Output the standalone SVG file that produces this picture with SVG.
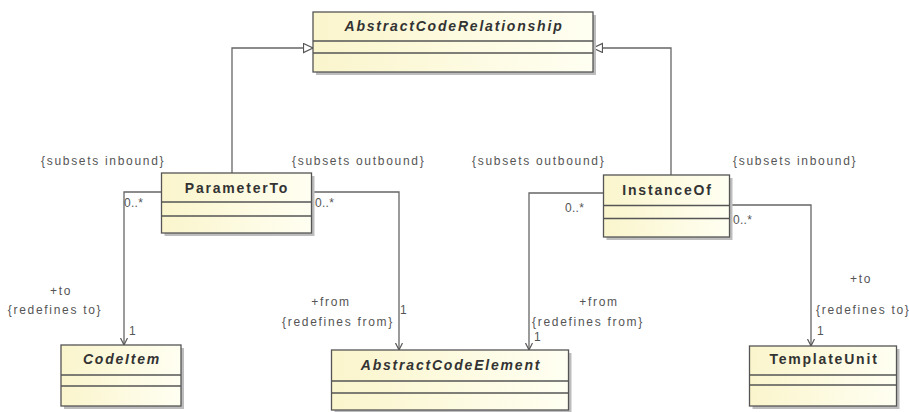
<svg xmlns="http://www.w3.org/2000/svg" width="909" height="412" viewBox="0 0 909 412">
<style>
.box{stroke:#555;stroke-width:1.3;fill:url(#g)}
.sh{fill:#bdbdbd}
.dv{stroke:#555;stroke-width:1.3}
.nm{font-family:"Liberation Sans",Arial,sans-serif;font-size:14px;font-weight:bold;letter-spacing:1.8px;fill:#333;text-anchor:middle}
.it{font-style:italic}
.lb{font-family:"Liberation Sans",Arial,sans-serif;font-size:12px;letter-spacing:1.7px;fill:#555}
.mu{font-family:"Liberation Sans",Arial,sans-serif;font-size:12px;letter-spacing:0.3px;fill:#555}
.c{text-anchor:middle}
.ln{fill:none;stroke:#666;stroke-width:1.3}
</style>
<defs>
<linearGradient id="g" x1="0" y1="0" x2="1" y2="0">
<stop offset="0" stop-color="#faf5cc"/>
<stop offset="1" stop-color="#fffff2"/>
</linearGradient>
<marker id="gen" markerUnits="userSpaceOnUse" markerWidth="12" markerHeight="12" refX="10" refY="5" orient="auto">
<path d="M0.5,0.5 L10,5 L0.5,9.5 Z" fill="#fff" stroke="#555" stroke-width="1.2"/>
</marker>
<marker id="nav" markerUnits="userSpaceOnUse" markerWidth="10" markerHeight="10" refX="7" refY="3.5" orient="auto">
<path d="M0,0 L7,3.5 L0,7" fill="none" stroke="#555" stroke-width="1.2"/>
</marker>
</defs>

<g id="connectors">
<path class="ln" d="M232,173 V48 H313" marker-end="url(#gen)"/>
<path class="ln" d="M671,175 V48 H593" marker-end="url(#gen)"/>
<path class="ln" d="M161.5,192 H124 V345" marker-end="url(#nav)"/>
<path class="ln" d="M311.5,192 H399 V350" marker-end="url(#nav)"/>
<path class="ln" d="M603.5,193 H529 V350" marker-end="url(#nav)"/>
<path class="ln" d="M729.5,205 H811 V346" marker-end="url(#nav)"/>
</g>

<g id="labels">
<text class="lb" x="41" y="165">{subsets inbound}</text>
<text class="lb" x="292" y="165">{subsets outbound}</text>
<text class="lb" x="472" y="165">{subsets outbound}</text>
<text class="lb" x="733" y="165">{subsets inbound}</text>
<text class="mu" x="124" y="207">0..*</text>
<text class="mu" x="315" y="207">0..*</text>
<text class="mu" x="565" y="212">0..*</text>
<text class="mu" x="733" y="224">0..*</text>
<text class="lb c" x="61" y="295">+to</text>
<text class="lb c" x="55" y="314">{redefines to}</text>
<text class="mu" x="129" y="335">1</text>
<text class="lb c" x="331" y="306">+from</text>
<text class="lb c" x="338" y="326">{redefines from}</text>
<text class="mu" x="400" y="314">1</text>
<text class="lb c" x="599" y="306">+from</text>
<text class="lb" x="532" y="326">{redefines from}</text>
<text class="mu" x="534" y="341">1</text>
<text class="lb c" x="861" y="283">+to</text>
<text class="lb" x="816" y="314">{redefines to}</text>
<text class="mu" x="817" y="335">1</text>
</g>

<g id="AbstractCodeRelationship">
<rect class="sh" x="316" y="15" width="280" height="60"/>
<rect class="box" x="313" y="12" width="280" height="60"/>
<line class="dv" x1="313" y1="41" x2="593" y2="41"/>
<line class="dv" x1="313" y1="53" x2="593" y2="53"/>
<text class="nm it" x="454" y="31">AbstractCodeRelationship</text>
</g>

<g id="ParameterTo">
<rect class="sh" x="164.5" y="176" width="150" height="60"/>
<rect class="box" x="161.5" y="173" width="150" height="60"/>
<line class="dv" x1="161.5" y1="202" x2="311.5" y2="202"/>
<line class="dv" x1="161.5" y1="216" x2="311.5" y2="216"/>
<text class="nm" x="237" y="193">ParameterTo</text>
</g>

<g id="InstanceOf">
<rect class="sh" x="606.5" y="178" width="126" height="62"/>
<rect class="box" x="603.5" y="175" width="126" height="62"/>
<line class="dv" x1="603.5" y1="205.5" x2="729.5" y2="205.5"/>
<line class="dv" x1="603.5" y1="218.5" x2="729.5" y2="218.5"/>
<text class="nm" x="667.5" y="195">InstanceOf</text>
</g>

<g id="CodeItem">
<rect class="sh" x="64" y="348" width="120" height="61"/>
<rect class="box" x="61" y="345" width="120" height="61"/>
<line class="dv" x1="61" y1="375" x2="181" y2="375"/>
<line class="dv" x1="61" y1="386" x2="181" y2="386"/>
<text class="nm it" x="122" y="364">CodeItem</text>
</g>

<g id="AbstractCodeElement">
<rect class="sh" x="334.5" y="353" width="237" height="60"/>
<rect class="box" x="331.5" y="350" width="237" height="60"/>
<line class="dv" x1="331.5" y1="381" x2="568.5" y2="381"/>
<line class="dv" x1="331.5" y1="393" x2="568.5" y2="393"/>
<text class="nm it" x="451" y="370">AbstractCodeElement</text>
</g>

<g id="TemplateUnit">
<rect class="sh" x="752.5" y="349" width="147" height="60"/>
<rect class="box" x="749.5" y="346" width="147" height="60"/>
<line class="dv" x1="749.5" y1="375" x2="896.5" y2="375"/>
<line class="dv" x1="749.5" y1="385" x2="896.5" y2="385"/>
<text class="nm" x="824" y="364">TemplateUnit</text>
</g>
</svg>
